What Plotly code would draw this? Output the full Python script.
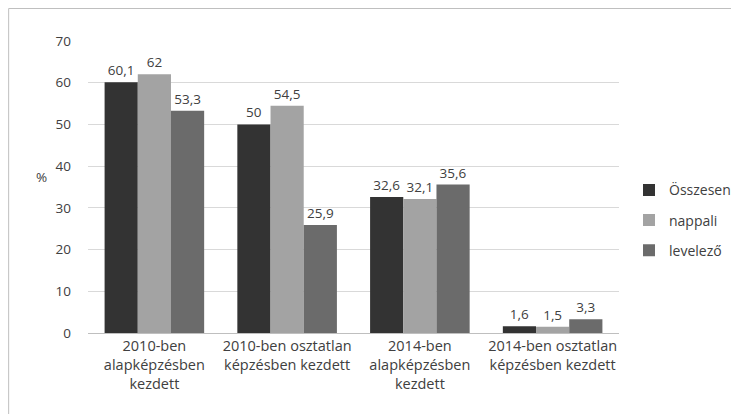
import plotly.graph_objects as go

categories = [
    "2010-ben<br>alapképzésben<br>kezdett",
    "2010-ben osztatlan<br>képzésben kezdett",
    "2014-ben<br>alapképzésben<br>kezdett",
    "2014-ben osztatlan<br>képzésben kezdett",
]
series_names = ["Összesen", "nappali", "levelező"]
osszesen = [60.1, 50, 32.6, 1.6]
nappali = [62, 54.5, 32.1, 1.5]
levelezo = [53.3, 25.9, 35.6, 3.3]
colors = ["#333333", "#a3a3a3", "#6b6b6b"]


def fmt(v):
    return str(v).replace(".", ",")


fig = go.Figure()
for name, vals, col in zip(series_names, [osszesen, nappali, levelezo], colors):
    fig.add_bar(
        name=name,
        legendgroup=name,
        x=categories,
        y=vals,
        marker_color=col,
        marker_line_width=0,
        text=[fmt(v) for v in vals],
        textposition="outside",
        textfont=dict(size=13.5, color="#404040"),
        cliponaxis=False,
    )

# page adds 8px body margin; plot area on screen: x 88..620, y 41..333
W, H = 532, 292
fig.update_layout(
    width=739,
    height=414,
    margin=dict(l=80, r=127, t=33, b=89),
    paper_bgcolor="white",
    plot_bgcolor="white",
    font=dict(family="Open Sans", size=13, color="#404040"),
    barmode="group",
    bargap=0.25,
    bargroupgap=0,
    showlegend=True,
    legend=dict(x=1 + 9 / W, y=0.386, xanchor="left", yanchor="middle",
                font=dict(size=14), tracegroupgap=9, itemwidth=30),
    xaxis=dict(showgrid=False, showline=True, linecolor="#bfbfbf", ticks="",
               tickfont=dict(size=14.5)),
    yaxis=dict(range=[0, 70], dtick=10, showgrid=True, gridcolor="#d9d9d9",
               zeroline=False, ticks="", ticklabelstandoff=16,
               tickfont=dict(size=13.5)),
    shapes=[dict(type="rect", xref="paper", yref="paper",
                 x0=-80 / W + 0.5 / W, x1=1 + 150 / W, y0=-120 / H, y1=1 + 32.5 / H,
                 line=dict(color="#bfbfbf", width=1))],
    annotations=[dict(text="%", xref="paper", yref="paper", x=-47 / W, y=(333 - 177) / H,
                      showarrow=False, xanchor="center", yanchor="middle",
                      font=dict(size=13.5))],
)

fig.write_html("out.html")
